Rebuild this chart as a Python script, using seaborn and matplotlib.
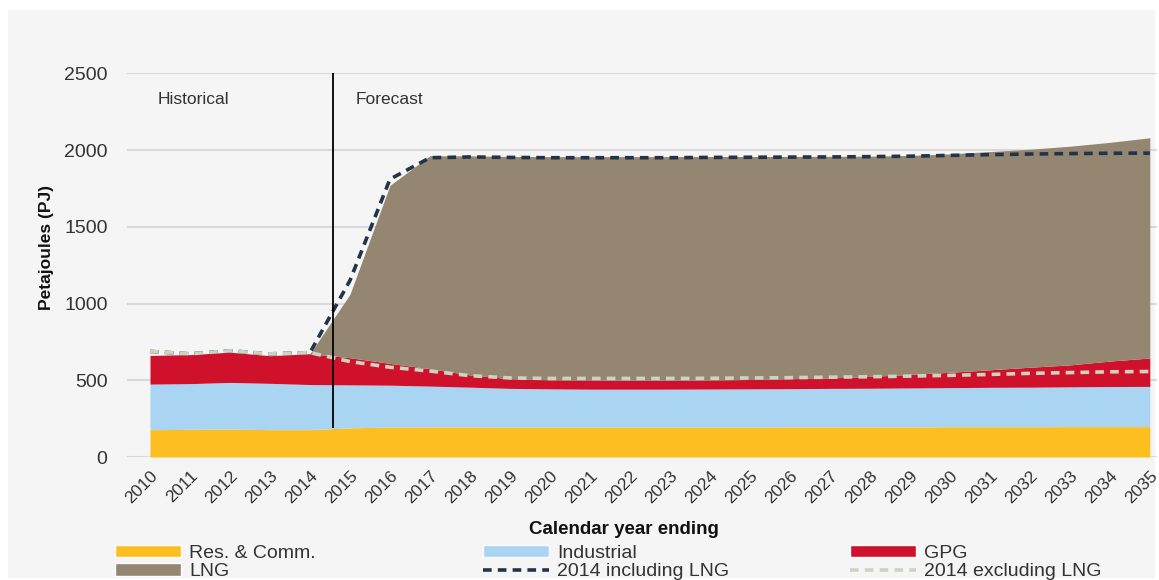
import numpy as np
import pandas as pd
import seaborn as sns
import matplotlib.pyplot as plt
import matplotlib.transforms as mtransforms
from matplotlib.patches import Patch, Rectangle
from matplotlib.lines import Line2D

years = list(range(2010, 2036))

# cumulative tops (PJ)
res_comm = [178, 180, 182, 178, 178, 190, 195, 196, 196, 195, 195, 195, 195,
            195, 195, 195, 196, 196, 196, 196, 197, 197, 197, 198, 198, 198]
industrial_top = [475, 478, 486, 480, 472, 470, 468, 462, 455, 447, 444, 442, 442,
                  442, 443, 444, 445, 447, 448, 450, 452, 454, 455, 457, 459, 460]
gpg_top = [662, 667, 683, 660, 673, 647, 610, 575, 535, 510, 503, 502, 500,
           500, 502, 505, 510, 515, 525, 538, 552, 568, 585, 600, 625, 645]
total_top = [662, 667, 683, 660, 673, 1060, 1770, 1963, 1962, 1958, 1957, 1957, 1957,
             1957, 1958, 1958, 1958, 1959, 1960, 1965, 1975, 1990, 2005, 2025, 2050, 2080]
incl_lng_2014 = [688, 672, 692, 672, 680, 1150, 1810, 1950, 1955, 1952, 1950, 1950, 1950,
                 1950, 1952, 1953, 1954, 1955, 1957, 1960, 1965, 1970, 1974, 1977, 1979, 1980]
excl_lng_2014 = [688, 672, 692, 672, 680, 622, 585, 560, 530, 515, 512, 512, 512,
                 512, 513, 515, 517, 520, 523, 527, 532, 538, 545, 550, 555, 557]

industrial = [b - a for a, b in zip(res_comm, industrial_top)]
gpg = [b - a for a, b in zip(industrial_top, gpg_top)]
lng = [b - a for a, b in zip(gpg_top, total_top)]

lines = pd.DataFrame({
    'year': years * 2,
    'value': incl_lng_2014 + excl_lng_2014,
    'series': ['2014 including LNG'] * len(years) + ['2014 excluding LNG'] * len(years),
})

c_res = '#fdbf1f'
c_ind = '#a9d4f2'
c_gpg = '#d0112b'
c_lng = '#948670'
c_incl = '#22344a'
c_excl = '#cbd4bf'
panel = '#f5f5f5'

sns.set_theme(style='white')
plt.rcParams['font.family'] = ['Liberation Sans', 'DejaVu Sans']

fig = plt.figure(figsize=(11.59, 5.8), dpi=100, facecolor='white')
fig.patches.append(Rectangle((8 / 1159, 2 / 580), 1147 / 1159, 568 / 580,
                             transform=fig.transFigure, facecolor=panel,
                             edgecolor='none', zorder=-5))
ax = fig.add_axes([127 / 1159, 1 - 457 / 580, 1030 / 1159, (457 - 73.3) / 580])
ax.set_facecolor('none')

ax.stackplot(years, res_comm, industrial, gpg, lng,
             colors=[c_res, c_ind, c_gpg, c_lng], linewidth=0, zorder=2)

dash = (0, (2.4, 1.7))
sns.lineplot(data=lines, x='year', y='value', hue='series',
             palette={'2014 including LNG': c_incl, '2014 excluding LNG': c_excl},
             linewidth=2.6, ax=ax, legend=False, zorder=4)
for ln in ax.get_lines():
    ln.set_linestyle(dash)

ax.vlines(2014.58, 187, 2500, color='black', linewidth=1.3, zorder=5)

ax.set_xlim(2009.425, 2035.18)
ax.set_ylim(0, 2500)
ax.set_yticks([0, 500, 1000, 1500, 2000, 2500])
ax.set_xticks(years)
ax.set_xticklabels([str(y) for y in years], rotation=45, ha='right',
                   rotation_mode='anchor', fontsize=12.5, color='#333333')
shift = mtransforms.ScaledTranslation(-11 / 100, 0, fig.dpi_scale_trans)
for lbl in ax.get_xticklabels():
    lbl.set_transform(lbl.get_transform() + shift)
ax.tick_params(axis='y', labelsize=14, colors='#333333', length=0, pad=14)
ax.tick_params(axis='x', length=0, pad=8)
ax.grid(axis='y', color='#d9d9d9', linewidth=1.5, zorder=0)
ax.set_axisbelow(True)
for s in ax.spines.values():
    s.set_visible(False)
ax.set_xlabel('')
ax.set_ylabel('')

fig.text(158 / 1159, 1 - 100 / 580, 'Historical', fontsize=12.5, color='#333333',
         va='center', ha='left')
fig.text(356 / 1159, 1 - 100 / 580, 'Forecast', fontsize=12.5, color='#333333',
         va='center', ha='left')

fig.text(46 / 1159, 1 - 248 / 580, 'Petajoules (PJ)', rotation=90, fontsize=12.5,
         fontweight='bold', color='#111111', ha='center', va='center')
fig.text(624 / 1159, 1 - 530 / 580, 'Calendar year ending', fontsize=13.5,
         fontweight='bold', color='#111111', ha='center', va='center')

columns = [
    (115, [Patch(facecolor=c_res, label='Res. & Comm.'),
           Patch(facecolor=c_lng, label='LNG')]),
    (483, [Patch(facecolor=c_ind, label='Industrial'),
           Line2D([], [], color=c_incl, lw=2.6, ls=dash, label='2014 including LNG')]),
    (850, [Patch(facecolor=c_gpg, label='GPG'),
           Line2D([], [], color=c_excl, lw=2.6, ls=dash, label='2014 excluding LNG')]),
]
for x0, handles in columns:
    leg = fig.legend(handles=handles, loc='upper left',
                     bbox_to_anchor=(x0 / 1159, 1 - 545 / 580),
                     frameon=False, fontsize=14, borderpad=0, borderaxespad=0,
                     handlelength=3.4, handleheight=0.6, handletextpad=0.4,
                     labelspacing=0.06)
    for txt in leg.get_texts():
        txt.set_color('#333333')

fig.savefig('out.png', dpi=100, facecolor='white')
